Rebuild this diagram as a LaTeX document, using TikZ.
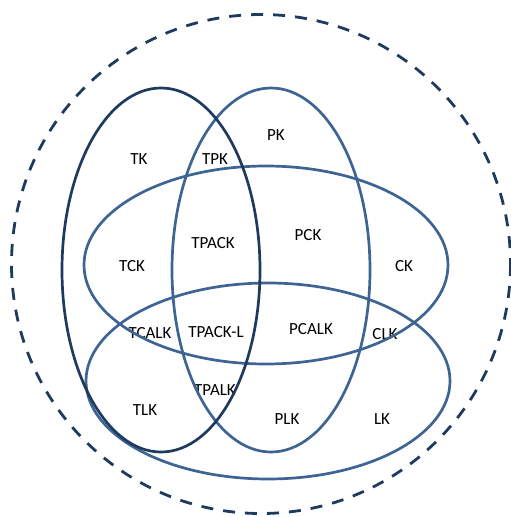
\documentclass[tikz,border=0pt]{standalone}
\usepackage{fontspec}
\setmainfont{Carlito}
\usepackage{xcolor}
\definecolor{nnavy}{HTML}{1F3A5F}
\definecolor{ssteel}{HTML}{3D6492}
\usepackage{tikz}
\usetikzlibrary{calc}

\begin{document}
\begin{tikzpicture}[every node/.style={font=\fontsize{17}{20}\selectfont},x=1pt,y=-1pt]
				\useasboundingbox (0,0) rectangle (511,517);
				% labels first, the rings go over them
				\node (tk) at (139,159) {TK};
				\node (tpk) at (215,159) {TPK};
				\node (pk) at (276,135) {PK};
				\node (tpack) at (213,243) {TPACK};
				\node (pck) at (308,235) {PCK};
				\node (tck) at (132,266) {TCK};
				\node (ck) at (404,266) {CK};
				\node (tcalk) at (150,333) {TCALK};
				\node (tpackl) at (216,332) {TPACK-L};
				\node (pcalk) at (311,329) {PCALK};
				\node (clk) at (385,334) {CLK};
				\node (tpalk) at (215,390) {TPALK};
				\node (tlk) at (145,410) {TLK};
				\node (plk) at (287,419) {PLK};
				\node (lk) at (382,419) {LK};
				% context
				\draw [line width=2.8pt, nnavy, dash pattern=on 12pt off 10pt] (261,264) circle [radius=249.5];
				% the four knowledge rings
				\draw [line width=2.7pt, ssteel] (271,270) ellipse [x radius=99, y radius=182];
				\draw [line width=2.7pt, ssteel] (266,265) ellipse [x radius=182, y radius=99];
				\draw [line width=2.7pt, ssteel] (268,381) ellipse [x radius=182, y radius=98];
				\draw [line width=2.7pt, nnavy] (161,270) ellipse [x radius=99, y radius=182];
			\end{tikzpicture}
\end{document}
